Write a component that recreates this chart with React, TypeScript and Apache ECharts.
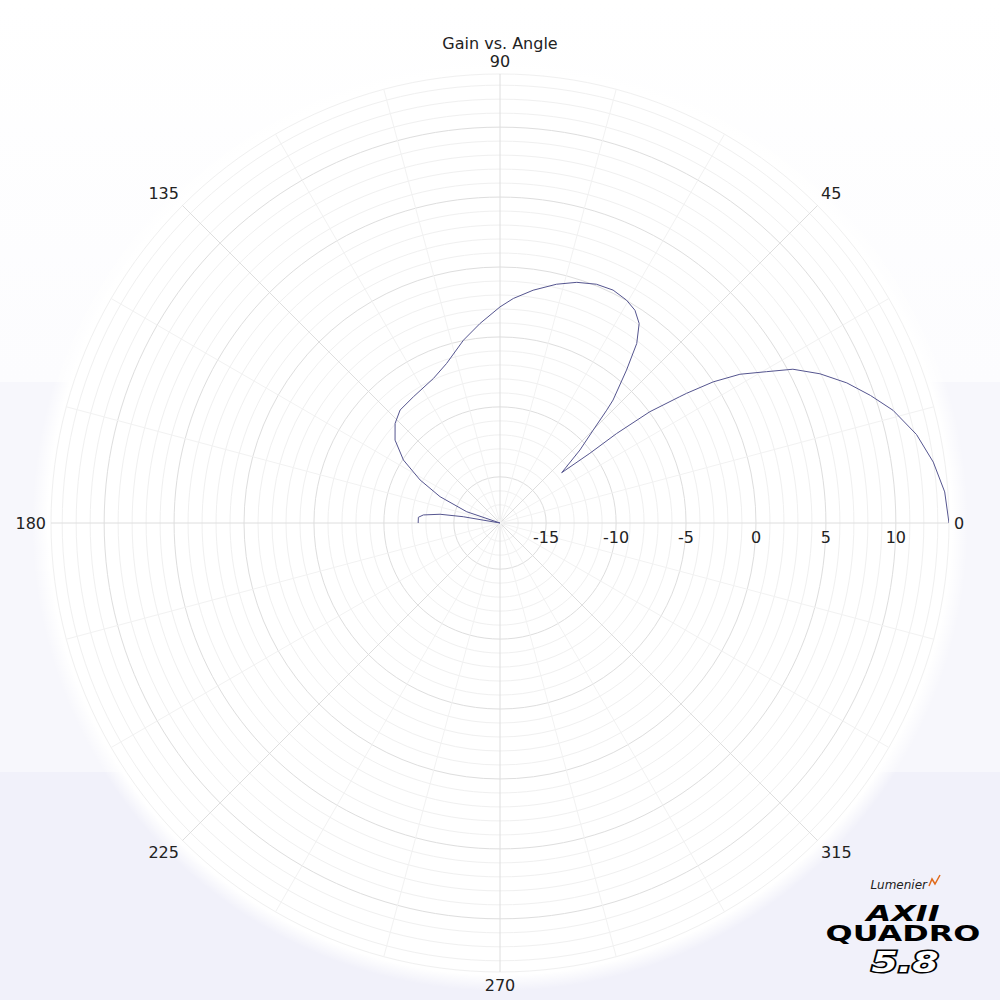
import React, { useEffect, useRef } from "react";
import * as echarts from "echarts";

// Angle (degrees) and gain (dBi)
const angles: number[] = [
  0, 4, 8, 12, 16, 19, 22, 25, 27.7, 29.6, 31.8, 33.5, 34.8, 35.1, 36.6, 37.5,
  37.8, 39.2, 42.4, 44.9, 46.6, 47.4, 50.4, 52.7, 55.1, 57.6, 60.4, 64.1, 68,
  72.3, 76.7, 81.9, 86.6, 90, 95.7, 101.3, 108.5, 114.7, 124.5, 131.5, 136.5,
  141.7, 146.9, 151.7, 156.3, 161.3, 165, 170.3, 171.7, 174, 176, 180,
];
const gains: number[] = [
  13.8, 13.57, 12.98, 12.14, 10.93, 9.71, 8.44, 6.94, 5.35, 3.6, 1.88, -0.02,
  -2.06, -2.59, -4.96, -7.79, -10.17, -12.61, -10.56, -8.9, -7.2, -6.36, -4.11,
  -2.17, -0.91, -0.29, 0.02, 0.21, 0.11, -0.24, -0.76, -1.49, -2.22, -2.85,
  -3.96, -4.97, -6.27, -6.92, -7.36, -7.52, -7.96, -8.74, -10.06, -11.81,
  -13.62, -15.79, -18.3, -15.64, -13.97, -12.79, -12.45, -12.45,
];
const radiusMin = -18.3;
const radiusMax = 13.8;
const titleText = "Gain vs. Angle";

export default function App() {
  const ref = useRef<HTMLDivElement>(null);
  useEffect(() => {
    if (!ref.current) return;
    const chart = echarts.init(ref.current, undefined, { renderer: "svg" });
    const minor = "#f0f0f0";
    const major = "#dedede";
    chart.setOption({
      animation: false,
      backgroundColor: "transparent",
      title: {
        text: titleText,
        left: "center",
        top: 30,
        textStyle: {
          fontFamily: "DejaVu Sans",
          fontSize: 16,
          fontWeight: "normal",
          color: "#222",
        },
      },
      polar: { center: ["50%", 523], radius: 449 },
      angleAxis: {
        type: "value",
        min: 0,
        max: 360,
        interval: 45,
        startAngle: 0,
        clockwise: false,
        axisLine: { show: false },
        axisTick: { show: false },
        axisLabel: {
          fontFamily: "DejaVu Sans",
          fontSize: 16,
          color: "#222",
          margin: 5,
        },
        splitLine: { show: true, lineStyle: { color: major, width: 1 } },
        minorTick: { show: false, splitNumber: 3 },
        minorSplitLine: { show: true, lineStyle: { color: "#f2f2f2", width: 1 } },
      },
      radiusAxis: {
        type: "value",
        min: radiusMin,
        max: radiusMax,
        splitNumber: 32,
        axisLine: { show: false },
        axisTick: { show: false },
        axisLabel: {
          fontFamily: "DejaVu Sans",
          fontSize: 16,
          color: "#222",
          margin: -22,
          formatter: (v: number) =>
            Math.abs(v - Math.round(v)) < 1e-6 && Math.round(v) % 5 === 0
              ? String(Math.round(v))
              : "",
        },
        splitLine: {
          show: true,
          lineStyle: { color: [minor, minor, minor, minor, major], width: 1 },
        },
      },
      series: [
        {
          type: "line",
          coordinateSystem: "polar",
          showSymbol: false,
          smooth: false,
          lineStyle: { color: "#55558f", width: 1 },
          data: angles.map((a, i) => [gains[i], a]),
        },
      ],
      graphic: [
        {
          type: "text",
          right: 73,
          top: 879,
          style: {
            text: "Lumenier",
            fontFamily: "DejaVu Sans",
            fontStyle: "italic",
            fontSize: 12,
            fill: "#222",
          },
        },
        {
          type: "polyline",
          shape: {
            points: [
              [929, 886],
              [932, 879],
              [935, 884],
              [940, 875],
            ],
          },
          style: { stroke: "#e06a1b", lineWidth: 1.5, fill: "none" },
        },
        {
          type: "text",
          x: 903,
          y: 913,
          scaleX: 1.45,
          style: {
            text: "AXII",
            fontFamily: "DejaVu Sans",
            fontWeight: "bold",
            fontStyle: "italic",
            fontSize: 22,
            fill: "#000",
            align: "center",
            verticalAlign: "middle",
          },
        },
        {
          type: "text",
          x: 903,
          y: 933,
          scaleX: 1.45,
          style: {
            text: "QUADRO",
            fontFamily: "DejaVu Sans",
            fontWeight: "bold",
            fontSize: 22,
            fill: "#000",
            align: "center",
            verticalAlign: "middle",
          },
        },
        {
          type: "text",
          x: 905,
          y: 962,
          scaleX: 1.35,
          style: {
            text: "5.8",
            fontFamily: "DejaVu Sans",
            fontWeight: "bold",
            fontStyle: "italic",
            fontSize: 28,
            fill: "#fff",
            stroke: "#000",
            lineWidth: 3,
            align: "center",
            verticalAlign: "middle",
          },
        },
      ],
    });
    return () => chart.dispose();
  }, []);
  return (
    <div
      ref={ref}
      style={{
        position: "fixed",
        left: 0,
        top: 0,
        width: 1000,
        height: 1000,
        background:
          "radial-gradient(circle at 500px 523px, #ffffff 0px, #ffffff 452px, rgba(255,255,255,0) 468px), linear-gradient(to bottom, #ffffff 0%, #fcfcfe 38.2%, #f7f7fc 38.2%, #f7f7fc 77.2%, #f1f1fa 77.2%, #f1f1fa 100%)",
      }}
    />
  );
}
